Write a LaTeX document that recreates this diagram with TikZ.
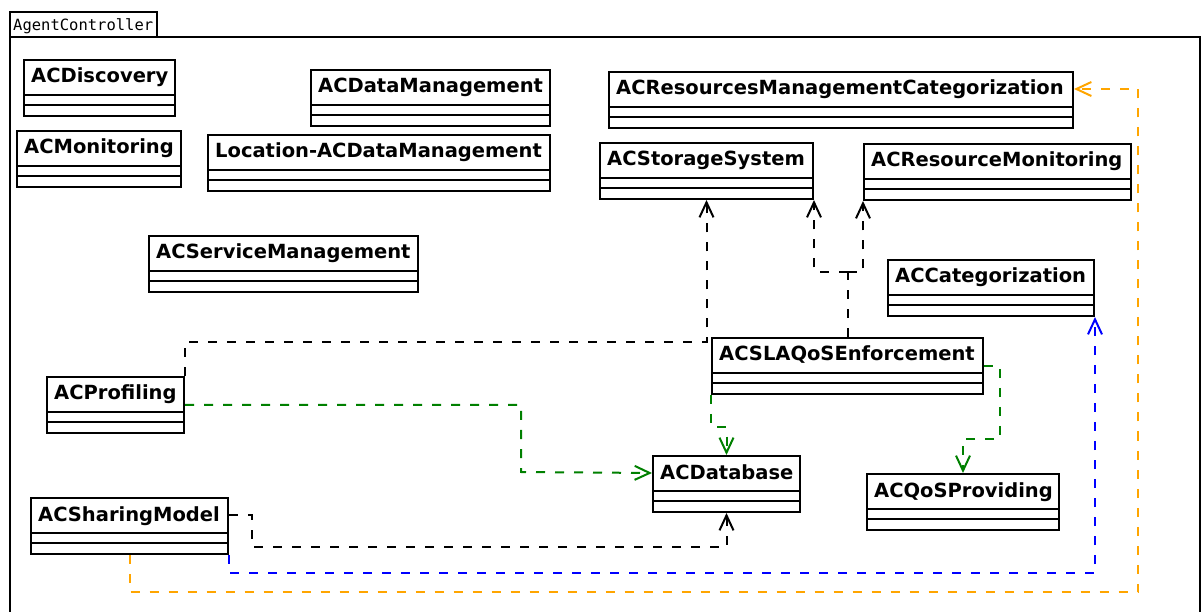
\documentclass[tikz,border=0pt]{standalone}
\usepackage{fontspec}
\setmainfont{DejaVu Sans}
\newfontfamily\pkgmono{DejaVu Sans Mono}
\usetikzlibrary{arrows.meta}
\definecolor{depgreen}{RGB}{0,128,0}
\definecolor{depblue}{RGB}{0,0,255}
\definecolor{deporange}{RGB}{255,165,0}

% UML class with an empty attribute and operation compartment:
% id, left, top, width, title
\newcommand{\umlclass}[5]{%
  \node[classbox, minimum width=#4pt] (#1) at (#2,#3) {};
  \draw[classline] ([yshift=-36pt]#1.north west) -- ([yshift=-36pt]#1.north east);
  \draw[classline] ([yshift=-46pt]#1.north west) -- ([yshift=-46pt]#1.north east);
  \node[classtitle] (#1-t) at ([xshift=8pt,yshift=-24pt]#1.north west) {#5};
}

\begin{document}
\begin{tikzpicture}[x=1pt, y=-1pt,
  classbox/.style={draw, line width=2pt, inner sep=0pt, minimum height=56pt, anchor=north west},
  classline/.style={line width=2pt},
  classtitle/.style={anchor=base west, inner sep=0pt, font=\bfseries\fontsize{19.5}{21}\selectfont},
  frame/.style={draw, line width=2pt},
  dep/.style={line width=2pt, dash pattern=on 9pt off 10pt,
    -{Straight Barb[length=15pt, width=14pt, line width=2pt]}},
  depline/.style={line width=2pt, dash pattern=on 9pt off 10pt}]

\useasboundingbox (0,0) rectangle (1203,612);
\clip (0,0) rectangle (1203,612);

% package frame
\draw[frame] (10,37) rectangle (157,12);
\node[anchor=base west, inner sep=0pt, font=\pkgmono\fontsize{15.5}{16}\selectfont] (pkg) at (13,31) {AgentController};
\draw[frame] (10,640) -- (10,37) -- (1200,37) -- (1200,640);

% classes
\umlclass{disc}{23}{59}{151}{ACDiscovery}
\umlclass{mon}{16}{130}{164}{ACMonitoring}
\umlclass{dm}{310}{69}{239}{ACDataManagement}
\umlclass{ldm}{207}{134}{342}{Location-ACDataManagement}
\umlclass{svc}{148}{235}{269}{ACServiceManagement}
\umlclass{rmc}{608}{71}{464}{ACResourcesManagementCategorization}
\umlclass{stor}{599}{142}{213}{ACStorageSystem}
\umlclass{rmon}{863}{143}{267}{ACResourceMonitoring}
\umlclass{cat}{887}{259}{206}{ACCategorization}
\umlclass{sla}{711}{337}{271}{ACSLAQoSEnforcement}
\umlclass{prof}{46}{376}{137}{ACProfiling}
\umlclass{db}{652}{455}{147}{ACDatabase}
\umlclass{qos}{866}{473}{192}{ACQoSProviding}
\umlclass{sm}{30}{497}{197}{ACSharingModel}

% dependencies
\draw[dep] (prof.north east) -- ++(0,-34) -| (stor.south);

\coordinate (slaj) at ([yshift=65pt]sla.north);
\draw[depline] (sla.north) -- (slaj);
\draw[dep] (slaj) -| (stor.south east);
\draw[dep] (slaj) -| (rmon.south west);

\draw[dep, depgreen] (prof.east) -| (521,472) -- ([yshift=-18pt]db.north west);
\draw[dep, depgreen] (sla.south west) -- ++(0,32) -| (db.north);
\draw[dep, depgreen] (sla.east) -| (1000,439) -| (qos.north);

\draw[dep] ([yshift=-18pt]sm.north east) -| (252,547) -| (db.south);
\draw[dep, depblue] (sm.south east) -- ++(0,18) -| (cat.south east);
\coordinate (oc) at (1138,592);
\draw[dep, deporange] (sm.south) |- (oc) |- ([yshift=-18pt]rmc.north east);

\end{tikzpicture}
\end{document}
